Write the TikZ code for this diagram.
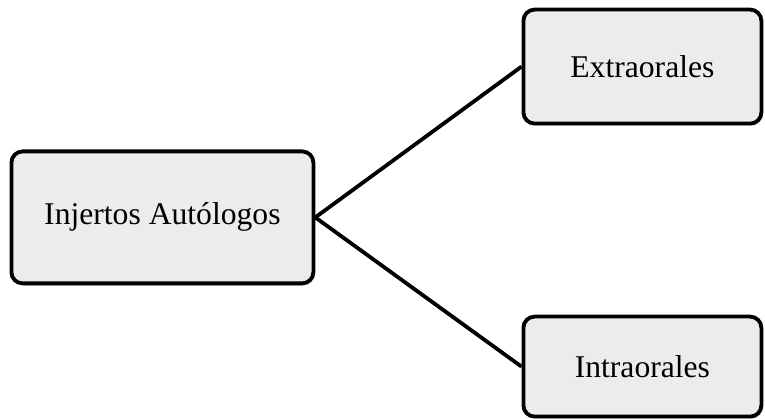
\documentclass[tikz,border=0pt]{standalone}
\usepackage{fontspec}
\setmainfont{Liberation Serif}
\usepackage{tikz}
\usetikzlibrary{shadows,positioning}
\definecolor{boxgray}{RGB}{236,236,236}

\begin{document}
\begin{tikzpicture}
	\tikzstyle{box} = [rectangle, rounded corners = 8pt, draw = black, line width = 2.7pt, fill = boxgray, drop shadow = {opacity = 0.25, shadow xshift = 0.04, shadow yshift = -0.06}, inner sep = 0pt, font = \fontsize{22.5}{27}\selectfont]
\useasboundingbox (0, 0) rectangle (19.125, 10.475);
\node[box, minimum width = 7.55cm, minimum height = 3.3cm] (0) at (4.06, 5.04) {Injertos Autólogos};
\node[box, minimum width = 5.95cm, minimum height = 2.85cm] (1) at (16.06, 8.81) {Extraorales};
\node[box, minimum width = 5.95cm, minimum height = 2.5cm] (2) at (16.06, 1.31) {Intraorales};
	\path[draw, line width = 2.7pt] (0.east) -- (1.west);
	\path[draw, line width = 2.7pt] (0.east) -- (2.west);
\end{tikzpicture}
\end{document}
